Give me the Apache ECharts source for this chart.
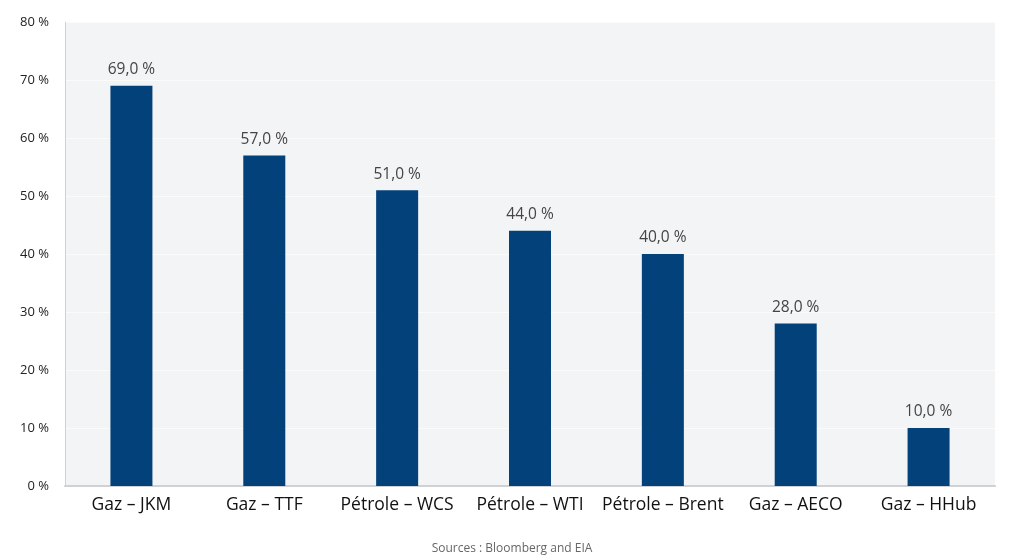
<!DOCTYPE html>
<html><head><meta charset="utf-8">
<script src="https://cdn.jsdelivr.net/npm/echarts@6/dist/echarts.min.js"></script>
<style>html,body{margin:0;padding:0;background:#fff}#c{width:1024px;height:559px}</style>
</head><body><div id="c"></div>
<script>
const categories = ["Gaz – JKM","Gaz – TTF","Pétrole – WCS","Pétrole – WTI","Pétrole – Brent","Gaz – AECO","Gaz – HHub"];
const values = [69.0,57.0,51.0,44.0,40.0,28.0,10.0];
const sourceText = "Sources : Bloomberg and EIA";
const font = "'Open Sans', 'Noto Sans', sans-serif";
const chart = echarts.init(document.getElementById('c'));
chart.setOption({
  animation:false,
  backgroundColor:'#fff',
  title:{text:sourceText,left:'center',top:538,textStyle:{fontSize:12,fontWeight:'normal',color:'#666',fontFamily:font}},
  grid:{left:65,right:29,top:22,bottom:73,backgroundColor:'#f3f4f6',show:true,borderWidth:0},
  xAxis:{type:'category',data:categories,
    axisLine:{lineStyle:{color:'#cfd1d4',width:2}},axisTick:{show:false},
    axisLabel:{fontSize:17.5,color:'#111',fontFamily:font,margin:10,interval:0}},
  yAxis:{type:'value',min:0,max:80,interval:10,
    axisLine:{show:true,lineStyle:{color:'#cfd1d4',width:1}},
    splitLine:{lineStyle:{color:'#fbfbfc',width:1}},
    axisLabel:{fontSize:13,color:'#222',fontFamily:font,margin:16,formatter:v=>v+' %'}},
  series:[{type:'bar',data:values,barWidth:42,itemStyle:{color:'#02417a'},
    label:{show:true,position:'top',distance:8,fontSize:15.5,color:'#444',fontFamily:font,
      formatter:p=>p.value.toFixed(1).replace('.',',')+' %'}}]
});
</script></body></html>
